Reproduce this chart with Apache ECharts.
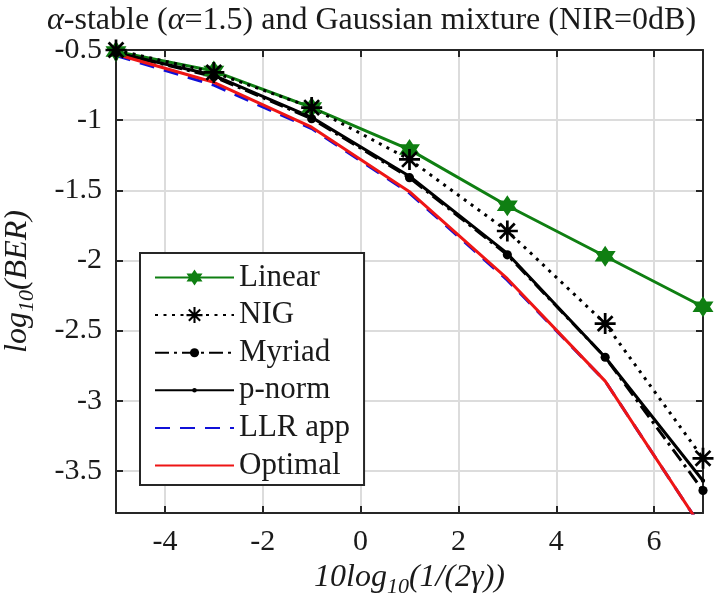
<!DOCTYPE html>
<html>
<head>
<meta charset="utf-8">
<script src="https://cdn.jsdelivr.net/npm/echarts@6/dist/echarts.min.js"></script>
<style>html,body{margin:0;padding:0;background:#fff}#c{width:721px;height:608px}</style>
</head>
<body>
<div id="c"></div>
<script>
// ---- data ----
var xValues = [-5, -3, -1, 1, 3, 5, 7];
var linearBER  = [-0.51, -0.65, -0.91, -1.21, -1.61, -1.97, -2.33];
var nigBER     = [-0.50, -0.66, -0.91, -1.28, -1.79, -2.45, -3.41];
var myriadBER  = [-0.52, -0.69, -0.99, -1.41, -1.96, -2.69, -3.64];
var pnormBER   = [-0.52, -0.68, -0.98, -1.40, -1.95, -2.69, -3.57];
var llrBER     = [-0.54, -0.75, -1.06, -1.52, -2.14, -2.86, -3.92];
var optimalBER = [-0.53, -0.73, -1.05, -1.51, -2.13, -2.86, -3.92];
var seriesNames = ['Linear', 'NIG', 'Myriad', 'p-norm', 'LLR app', 'Optimal'];
var xTicks = [-4, -2, 0, 2, 4, 6];
var yTicks = [-3.5, -3, -2.5, -2, -1.5, -1, -0.5];

function pairs(ys) { return xValues.map(function (x, i) { return [x, ys[i]]; }); }

// symbol shapes
var hexagram = 'path://M0,-1 L0.866,0.5 L-0.866,0.5 Z M0,1 L-0.866,-0.5 L0.866,-0.5 Z';
function asteriskPath() {
  var w = 0.13, parts = [];
  [0, 45, 90, 135].forEach(function (deg) {
    var a = deg * Math.PI / 180, c = Math.cos(a), s = Math.sin(a);
    var pts = [[-1, -w], [1, -w], [1, w], [-1, w]].map(function (p) {
      return [(p[0] * c - p[1] * s).toFixed(3), (p[0] * s + p[1] * c).toFixed(3)];
    });
    parts.push('M' + pts.map(function (p) { return p.join(','); }).join(' L') + ' Z');
  });
  return 'path://' + parts.join(' ');
}
// filled dot of radius 1 inside a larger (invisible) bounding box of half-size b
function dotPath(b) {
  return 'path://M' + (-b) + ',' + (-b) + ' M' + b + ',' + b +
    ' M1,0 A1,1 0 1,1 -1,0 A1,1 0 1,1 1,0 Z';
}

var FONT = 'Liberation Serif';
var AX = '#262626';
var TXT = '#1a1a1a';
var chart = echarts.init(document.getElementById('c'), null, { renderer: 'canvas' });

var legendData = seriesNames.map(function (n) {
  return (n === 'LLR app' || n === 'Optimal') ? { name: n, itemStyle: { opacity: 0 } } : { name: n };
});

var option = {
  backgroundColor: '#fff',
  animation: false,
  title: {
    text: '{i|α}-stable ({i|α}=1.5) and Gaussian mixture (NIR=0dB)',
    left: 42, top: 0,
    textStyle: {
      fontFamily: FONT, fontSize: 32, fontWeight: 'normal', color: TXT,
      rich: { i: { fontFamily: FONT, fontSize: 32, fontStyle: 'italic', color: TXT } }
    }
  },
  grid: { left: 116, right: 18, top: 50, bottom: 95, containLabel: false, outerBoundsMode: 'none' },
  legend: {
    orient: 'vertical', left: 140, top: 253,
    padding: [9, 14, 4, 14], itemGap: 6.6,
    itemWidth: 79, itemHeight: 20,
    backgroundColor: '#fff', borderColor: AX, borderWidth: 2,
    textStyle: { fontFamily: FONT, fontSize: 31, color: TXT },
    data: legendData
  },
  xAxis: [{
    type: 'value', min: -5, max: 7, position: 'bottom',
    axisLine: { show: true, onZero: false, lineStyle: { color: AX, width: 2 } },
    axisTick: { show: true, inside: true, length: 7, customValues: xTicks, lineStyle: { color: AX, width: 2 } },
    axisLabel: { customValues: xTicks, fontFamily: FONT, fontSize: 30, color: TXT, margin: 14 },
    splitLine: { show: true, lineStyle: { color: '#dcdcdc', width: 2 } },
    name: '{a|10log}{s|10}{a|(1/(2γ))}', nameLocation: 'middle', nameGap: 44,
    nameTextStyle: {
      rich: {
        a: { fontFamily: FONT, fontSize: 32, fontStyle: 'italic', color: TXT },
        s: { fontFamily: FONT, fontSize: 22, fontStyle: 'italic', color: TXT, padding: [18, 0, 0, 0] }
      }
    }
  }, {
    type: 'value', min: -5, max: 7, position: 'top',
    axisLine: { show: true, onZero: false, lineStyle: { color: AX, width: 2 } },
    axisTick: { show: true, inside: true, length: 7, customValues: xTicks, lineStyle: { color: AX, width: 2 } },
    axisLabel: { show: false }, splitLine: { show: false }
  }],
  yAxis: [{
    type: 'value', min: -3.8, max: -0.5, position: 'left',
    axisLine: { show: true, onZero: false, lineStyle: { color: AX, width: 2 } },
    axisTick: { show: true, inside: true, length: 7, customValues: yTicks, lineStyle: { color: AX, width: 2 } },
    axisLabel: { customValues: yTicks, fontFamily: FONT, fontSize: 30, color: TXT, margin: 14 },
    splitLine: { show: true, lineStyle: { color: '#dcdcdc', width: 2 } },
    name: '{a|log}{s|10}{a|(BER)}', nameLocation: 'middle', nameGap: 78,
    nameTextStyle: {
      rich: {
        a: { fontFamily: FONT, fontSize: 32, fontStyle: 'italic', color: TXT },
        s: { fontFamily: FONT, fontSize: 22, fontStyle: 'italic', color: TXT, padding: [18, 0, 0, 0] }
      }
    }
  }, {
    type: 'value', min: -3.8, max: -0.5, position: 'right',
    axisLine: { show: true, onZero: false, lineStyle: { color: AX, width: 2 } },
    axisTick: { show: true, inside: true, length: 7, customValues: yTicks, lineStyle: { color: AX, width: 2 } },
    axisLabel: { show: false }, splitLine: { show: false }
  }],
  series: [{
    name: 'Linear', type: 'line', data: pairs(linearBER),
    symbol: hexagram, symbolSize: 21,
    lineStyle: { color: '#0f7f12', width: 3 }, itemStyle: { color: '#0f7f12' }
  }, {
    name: 'NIG', type: 'line', data: pairs(nigBER),
    symbol: asteriskPath(), symbolSize: 21,
    lineStyle: { color: '#000', width: 3, type: [3, 5.5] }, itemStyle: { color: '#000' }
  }, {
    name: 'Myriad', type: 'line', data: pairs(myriadBER),
    symbol: dotPath(1.75), symbolSize: 16,
    lineStyle: { color: '#000', width: 3, type: [14, 5, 3, 5] }, itemStyle: { color: '#000' }
  }, {
    name: 'p-norm', type: 'line', data: pairs(pnormBER),
    symbol: dotPath(3.5), symbolSize: 15,
    lineStyle: { color: '#000', width: 3 }, itemStyle: { color: '#000' }
  }, {
    name: 'LLR app', type: 'line', data: pairs(llrBER),
    symbol: 'none',
    lineStyle: { color: '#1010d8', width: 3, type: [15, 10] }, itemStyle: { color: '#1010d8' }
  }, {
    name: 'Optimal', type: 'line', data: pairs(optimalBER),
    symbol: 'none',
    lineStyle: { color: '#ee1515', width: 3 }, itemStyle: { color: '#ee1515' }
  }]
};
chart.setOption(option);
</script>
</body>
</html>
